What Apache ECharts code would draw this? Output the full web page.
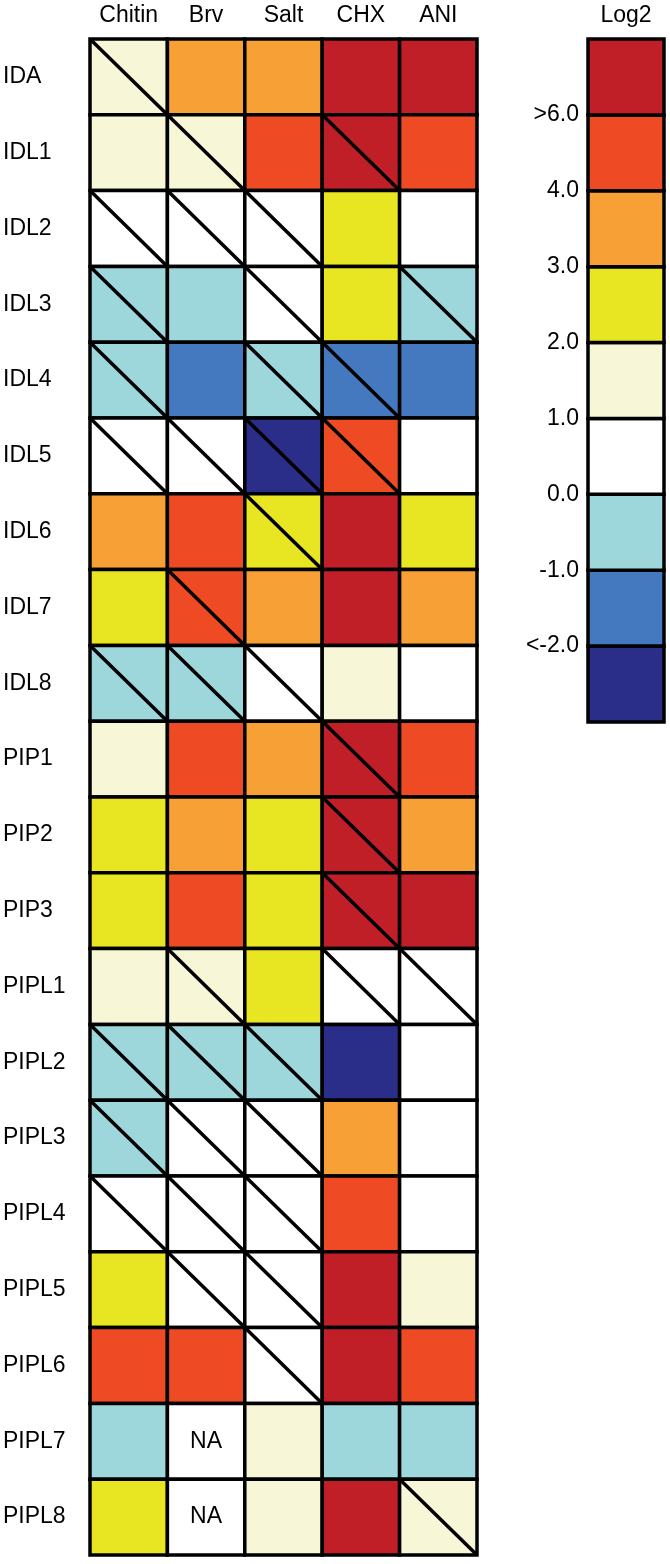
<!DOCTYPE html>
<html>
<head>
<meta charset="utf-8">
<script src="https://cdn.jsdelivr.net/npm/echarts@6/dist/echarts.min.js"></script>
<style>html,body{margin:0;padding:0;background:#fff}#c{width:670px;height:1564px}</style>
</head>
<body>
<div id="c"></div>
<script>
// Row and column categories
const rowLabels = ['IDA','IDL1','IDL2','IDL3','IDL4','IDL5','IDL6','IDL7','IDL8','PIP1','PIP2','PIP3','PIPL1','PIPL2','PIPL3','PIPL4','PIPL5','PIPL6','PIPL7','PIPL8'];
const colLabels = ['Chitin','Brv','Salt','CHX','ANI'];

// Log2 values per column (estimated bin values, null = NA)
const chitin = [1.5,1.5,0.5,-0.5,-0.5,0.5,3.5,2.5,-0.5,1.5,2.5,2.5,1.5,-0.5,-0.5,0.5,2.5,5,-0.5,2.5];
const brv    = [3.5,1.5,0.5,-0.5,-1.5,0.5,5,5,-0.5,5,3.5,5,1.5,-0.5,0.5,0.5,0.5,5,null,null];
const salt   = [3.5,5,0.5,0.5,-0.5,-2.5,2.5,3.5,0.5,3.5,2.5,2.5,2.5,-0.5,0.5,0.5,0.5,0.5,1.5,1.5];
const chx    = [6.5,6.5,2.5,2.5,-1.5,5,6.5,6.5,1.5,6.5,6.5,6.5,0.5,-2.5,3.5,5,6.5,6.5,-0.5,6.5];
const ani    = [6.5,5,0.5,-0.5,-1.5,0.5,2.5,3.5,0.5,5,3.5,6.5,0.5,0.5,0.5,0.5,1.5,5,-0.5,1.5];

// Diagonal marks per row (one char per column: 1 = diagonal drawn)
const diagonals = ['10000','01010','11100','10101','10110','11110','00100','01000','11100','00010','00010','00010','01011','11100','11100','11100','01100','00100','00000','00001'];

// Legend bins (bottom to top) and boundary tick labels
const legendValues = [-2.5,-1.5,-0.5,0.5,1.5,2.5,3.5,5,6.5];
const legendTicks = ['', '<-2.0', '-1.0', '0.0', '1.0', '2.0', '3.0', '4.0', '>6.0', ''];

const columns = [chitin, brv, salt, chx, ani];
const cellData = [];
rowLabels.forEach((r, ri) => {
  columns.forEach((col, ci) => {
    const v = col[ri];
    cellData.push([ci, ri, v === null ? 0.5 : v, diagonals[ri][ci] === '1' ? 1 : 0, v === null ? 1 : 0]);
  });
});
const legendData = legendValues.map((v, i) => [0, i, v]);

const FONT = 'Liberation Sans, Arial, sans-serif';
const FS = 23;
const LW = 3.5;
const chart = echarts.init(document.getElementById('c'), null, {renderer: 'canvas'});

chart.setOption({
  backgroundColor: '#fff',
  animation: false,
  grid: [
    {left: 88, top: 39, width: 389, height: 1516, show: false},
    {left: 588, top: 39, width: 76, height: 683, show: false}
  ],
  xAxis: [
    {type: 'category', gridIndex: 0, data: colLabels, position: 'top',
     axisLine: {show: false}, axisTick: {show: false}, splitLine: {show: false},
     axisLabel: {fontSize: FS, color: '#000', fontFamily: FONT, margin: 23, verticalAlign: 'middle'}},
    {type: 'category', gridIndex: 1, data: ['Log2'], position: 'top',
     axisLine: {show: false}, axisTick: {show: false}, splitLine: {show: false},
     axisLabel: {fontSize: FS, color: '#000', fontFamily: FONT, margin: 23, verticalAlign: 'middle'}}
  ],
  yAxis: [
    {type: 'category', gridIndex: 0, data: rowLabels, inverse: true,
     axisLine: {show: false}, axisTick: {show: false}, splitLine: {show: false},
     axisLabel: {fontSize: FS, color: '#000', fontFamily: FONT, align: 'left', margin: 87}},
    {type: 'value', gridIndex: 1, min: 0, max: 9, interval: 1,
     axisLine: {show: false}, axisTick: {show: false}, splitLine: {show: false},
     axisLabel: {fontSize: FS, color: '#000', fontFamily: FONT, margin: 9,
       formatter: (v) => legendTicks[Math.round(v)] || ''}}
  ],
  visualMap: {
    show: false, type: 'piecewise', dimension: 2, seriesIndex: [0, 1],
    pieces: [
      {min: 6, color: '#C11F28'},
      {min: 4, max: 6, color: '#EE4B24'},
      {min: 3, max: 4, color: '#F6A035'},
      {min: 2, max: 3, color: '#E8E622'},
      {min: 1, max: 2, color: '#F7F6D6'},
      {min: 0, max: 1, color: '#FFFFFF'},
      {min: -1, max: 0, color: '#9DD7DB'},
      {min: -2, max: -1, color: '#4479C0'},
      {max: -2, color: '#2A2E88'}
    ]
  },
  series: [
    {
      type: 'custom', xAxisIndex: 0, yAxisIndex: 0, data: cellData,
      encode: {x: 0, y: 1},
      renderItem: function (params, api) {
        const c = api.coord([api.value(0), api.value(1)]);
        const s = api.size([1, 1]);
        const x0 = c[0] - s[0] / 2, y0 = c[1] - s[1] / 2;
        const isNA = api.value(4) === 1;
        const children = [{
          type: 'rect', shape: {x: x0, y: y0, width: s[0], height: s[1]},
          style: {fill: isNA ? '#fff' : api.visual('color'), stroke: '#000', lineWidth: LW}
        }];
        if (api.value(3) === 1) {
          children.push({type: 'line', shape: {x1: x0, y1: y0, x2: x0 + s[0], y2: y0 + s[1]},
            style: {stroke: '#000', lineWidth: LW}});
        }
        if (isNA) {
          children.push({type: 'text', style: {text: 'NA', x: c[0], y: c[1], align: 'center',
            verticalAlign: 'middle', fontSize: FS, fontFamily: FONT, fill: '#000'}});
        }
        return {type: 'group', children: children};
      }
    },
    {
      type: 'custom', xAxisIndex: 1, yAxisIndex: 1, data: legendData,
      encode: {x: 0, y: 1},
      renderItem: function (params, api) {
        const i = api.value(1);
        const top = api.coord([0, i + 1]);
        const bot = api.coord([0, i]);
        const w = api.size([1, 0])[0];
        return {type: 'rect', shape: {x: top[0] - w / 2, y: top[1], width: w, height: bot[1] - top[1]},
          style: {fill: api.visual('color'), stroke: '#000', lineWidth: LW}};
      }
    }
  ]
});
</script>
</body>
</html>
